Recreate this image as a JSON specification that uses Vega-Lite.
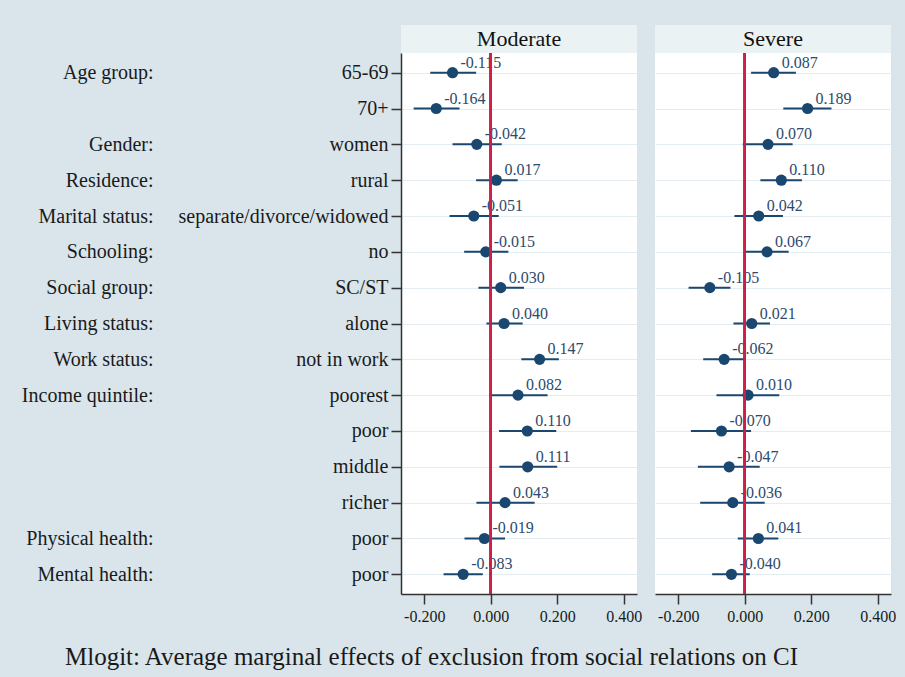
{
  "$schema": "https://vega.github.io/schema/vega-lite/v6.json",
  "background": "#D9E5EB",
  "padding": {"left": 21, "top": 25, "right": 12, "bottom": 8},
  "autosize": {"type": "pad"},
  "config": {
    "locale": {"number": {"decimal": ".", "thousands": ",", "grouping": [3], "currency": ["$", ""], "minus": "-"}},
    "font": "Liberation Serif",
    "view": {"stroke": null, "fill": "white"},
    "axis": {"labelFont": "Liberation Serif", "titleFont": "Liberation Serif"}
  },
  "datasets": {
    "me": [
      {"panel": "Moderate", "group": "Age group:", "label": "65-69", "key": "Age group:|65-69|1", "est": -0.115, "lo": -0.182, "hi": -0.044},
      {"panel": "Moderate", "group": "", "label": "70+", "key": "|70+|2", "est": -0.164, "lo": -0.232, "hi": -0.094},
      {"panel": "Moderate", "group": "Gender:", "label": "women", "key": "Gender:|women|3", "est": -0.042, "lo": -0.115, "hi": 0.033},
      {"panel": "Moderate", "group": "Residence:", "label": "rural", "key": "Residence:|rural|4", "est": 0.017, "lo": -0.044, "hi": 0.081},
      {"panel": "Moderate", "group": "Marital status:", "label": "separate/divorce/widowed", "key": "Marital status:|separate/divorce/widowed|5", "est": -0.051, "lo": -0.124, "hi": 0.024},
      {"panel": "Moderate", "group": "Schooling:", "label": "no", "key": "Schooling:|no|6", "est": -0.015, "lo": -0.080, "hi": 0.053},
      {"panel": "Moderate", "group": "Social group:", "label": "SC/ST", "key": "Social group:|SC/ST|7", "est": 0.030, "lo": -0.037, "hi": 0.100},
      {"panel": "Moderate", "group": "Living status:", "label": "alone", "key": "Living status:|alone|8", "est": 0.040, "lo": -0.013, "hi": 0.096},
      {"panel": "Moderate", "group": "Work status:", "label": "not in work", "key": "Work status:|not in work|9", "est": 0.147, "lo": 0.092, "hi": 0.205},
      {"panel": "Moderate", "group": "Income quintile:", "label": "poorest", "key": "Income quintile:|poorest|10", "est": 0.082, "lo": -0.005, "hi": 0.171},
      {"panel": "Moderate", "group": "", "label": "poor", "key": "|poor|11", "est": 0.110, "lo": 0.025, "hi": 0.197},
      {"panel": "Moderate", "group": "", "label": "middle", "key": "|middle|12", "est": 0.111, "lo": 0.026, "hi": 0.200},
      {"panel": "Moderate", "group": "", "label": "richer", "key": "|richer|13", "est": 0.043, "lo": -0.043, "hi": 0.132},
      {"panel": "Moderate", "group": "Physical health:", "label": "poor", "key": "Physical health:|poor|14", "est": -0.019, "lo": -0.079, "hi": 0.043},
      {"panel": "Moderate", "group": "Mental health:", "label": "poor", "key": "Mental health:|poor|15", "est": -0.083, "lo": -0.142, "hi": -0.024},
      {"panel": "Severe", "group": "Age group:", "label": "65-69", "key": "Age group:|65-69|1", "est": 0.087, "lo": 0.019, "hi": 0.154},
      {"panel": "Severe", "group": "", "label": "70+", "key": "|70+|2", "est": 0.189, "lo": 0.116, "hi": 0.261},
      {"panel": "Severe", "group": "Gender:", "label": "women", "key": "Gender:|women|3", "est": 0.070, "lo": -0.006, "hi": 0.144},
      {"panel": "Severe", "group": "Residence:", "label": "rural", "key": "Residence:|rural|4", "est": 0.110, "lo": 0.047, "hi": 0.172},
      {"panel": "Severe", "group": "Marital status:", "label": "separate/divorce/widowed", "key": "Marital status:|separate/divorce/widowed|5", "est": 0.042, "lo": -0.031, "hi": 0.115},
      {"panel": "Severe", "group": "Schooling:", "label": "no", "key": "Schooling:|no|6", "est": 0.067, "lo": 0.002, "hi": 0.132},
      {"panel": "Severe", "group": "Social group:", "label": "SC/ST", "key": "Social group:|SC/ST|7", "est": -0.105, "lo": -0.169, "hi": -0.043},
      {"panel": "Severe", "group": "Living status:", "label": "alone", "key": "Living status:|alone|8", "est": 0.021, "lo": -0.034, "hi": 0.076},
      {"panel": "Severe", "group": "Work status:", "label": "not in work", "key": "Work status:|not in work|9", "est": -0.062, "lo": -0.125, "hi": 0.000},
      {"panel": "Severe", "group": "Income quintile:", "label": "poorest", "key": "Income quintile:|poorest|10", "est": 0.010, "lo": -0.085, "hi": 0.104},
      {"panel": "Severe", "group": "", "label": "poor", "key": "|poor|11", "est": -0.070, "lo": -0.162, "hi": 0.019},
      {"panel": "Severe", "group": "", "label": "middle", "key": "|middle|12", "est": -0.047, "lo": -0.141, "hi": 0.045},
      {"panel": "Severe", "group": "", "label": "richer", "key": "|richer|13", "est": -0.036, "lo": -0.134, "hi": 0.060},
      {"panel": "Severe", "group": "Physical health:", "label": "poor", "key": "Physical health:|poor|14", "est": 0.041, "lo": -0.021, "hi": 0.101},
      {"panel": "Severe", "group": "Mental health:", "label": "poor", "key": "Mental health:|poor|15", "est": -0.040, "lo": -0.098, "hi": 0.015}
    ]
  },
  "title": {
    "text": "Mlogit: Average marginal effects of exclusion from social relations on CI",
    "orient": "bottom",
    "anchor": "middle",
    "frame": "bounds",
    "dx": -27,
    "offset": 21,
    "font": "Liberation Serif",
    "fontSize": 25,
    "fontWeight": "normal",
    "color": "#1a1a1a"
  },
  "bounds": "flush",
  "columns": 2,
  "spacing": {"row": 0, "column": 18},
  "concat": [
    {
      "data": {"values": [{"panel": "Moderate"}]},
      "width": 236,
      "height": 28,
      "view": {"fill": "#EAF2F3", "stroke": null},
      "mark": {"type": "text", "font": "Liberation Serif", "fontSize": 22, "color": "#111111"},
      "encoding": {"text": {"field": "panel"}}
    },
    {
      "data": {"values": [{"panel": "Severe"}]},
      "width": 236,
      "height": 28,
      "view": {"fill": "#EAF2F3", "stroke": null},
      "mark": {"type": "text", "font": "Liberation Serif", "fontSize": 22, "color": "#111111"},
      "encoding": {"text": {"field": "panel"}}
    },
    {
      "width": 236,
      "height": 541,
      "data": {"name": "me"},
      "transform": [{"filter": "datum.panel === 'Moderate'"}],
      "resolve": {"axis": {"y": "independent"}},
      "layer": [
        {
          "mark": {"type": "rule", "color": "#1A476F", "strokeWidth": 2},
          "encoding": {
            "x": {"field": "lo", "type": "quantitative", "scale": {"domain": [-0.27, 0.44], "nice": false, "zero": false},
                  "axis": {"values": [-0.2, 0, 0.2, 0.4], "format": ".3f", "title": null, "grid": false, "labelFontSize": 16, "labelColor": "#1a1a1a", "tickSize": 10, "tickWidth": 1.5, "tickColor": "#333333", "domainColor": "#333333", "domainWidth": 1.5, "labelPadding": 4}},
            "x2": {"field": "hi"},
            "y": {"field": "key", "type": "nominal", "sort": null, "scale": {"type": "point", "padding": 0.55},
                  "axis": {"title": null, "labelExpr": "split(datum.value, '|')[1]", "labelFontSize": 20, "labelColor": "#1a1a1a", "tickSize": 10, "tickWidth": 1.5, "tickColor": "#333333", "domainColor": "#333333", "domainWidth": 1.5, "labelPadding": 3, "grid": true, "gridColor": "#E4EDF1", "gridWidth": 1.2, "labelLimit": 400}}
          }
        },
        {
          "mark": {"type": "point", "filled": true, "shape": "circle", "size": 125, "color": "#1A476F", "opacity": 1},
          "encoding": {
            "x": {"field": "est", "type": "quantitative"},
            "y": {"field": "key", "type": "nominal", "sort": null,
                  "axis": {"orient": "left", "offset": 248, "title": null, "labelExpr": "split(datum.value, '|')[0]", "labelFontSize": 20, "labelColor": "#1a1a1a", "ticks": false, "tickSize": 0, "domain": false, "grid": false, "labelPadding": 0, "labelLimit": 400}}
          }
        },
        {
          "mark": {"type": "text", "align": "left", "baseline": "alphabetic", "dx": 8, "dy": -5, "font": "Liberation Serif", "fontSize": 16, "color": "#2E4A6B"},
          "encoding": {
            "x": {"field": "est", "type": "quantitative"},
            "y": {"field": "key", "type": "nominal", "sort": null, "axis": null},
            "text": {"field": "est", "type": "quantitative", "format": ".3f"}
          }
        },
        {
          "mark": {"type": "rule", "color": "#CF1F48", "strokeWidth": 1.8},
          "encoding": {"x": {"datum": 0, "type": "quantitative"}}
        }
      ]
    },
    {
      "width": 236,
      "height": 541,
      "data": {"name": "me"},
      "transform": [{"filter": "datum.panel === 'Severe'"}],
      "layer": [
        {
          "mark": {"type": "rule", "color": "#1A476F", "strokeWidth": 2},
          "encoding": {
            "x": {"field": "lo", "type": "quantitative", "scale": {"domain": [-0.27, 0.44], "nice": false, "zero": false},
                  "axis": {"values": [-0.2, 0, 0.2, 0.4], "format": ".3f", "title": null, "grid": false, "labelFontSize": 16, "labelColor": "#1a1a1a", "tickSize": 10, "tickWidth": 1.5, "tickColor": "#333333", "domainColor": "#333333", "domainWidth": 1.5, "labelPadding": 4}},
            "x2": {"field": "hi"},
            "y": {"field": "key", "type": "nominal", "sort": null, "scale": {"type": "point", "padding": 0.55},
                  "axis": {"title": null, "labels": false, "ticks": false, "domain": false, "grid": true, "gridColor": "#E4EDF1", "gridWidth": 1.2}}
          }
        },
        {
          "mark": {"type": "point", "filled": true, "shape": "circle", "size": 125, "color": "#1A476F", "opacity": 1},
          "encoding": {
            "x": {"field": "est", "type": "quantitative"},
            "y": {"field": "key", "type": "nominal", "sort": null}
          }
        },
        {
          "mark": {"type": "text", "align": "left", "baseline": "alphabetic", "dx": 8, "dy": -5, "font": "Liberation Serif", "fontSize": 16, "color": "#2E4A6B"},
          "encoding": {
            "x": {"field": "est", "type": "quantitative"},
            "y": {"field": "key", "type": "nominal", "sort": null},
            "text": {"field": "est", "type": "quantitative", "format": ".3f"}
          }
        },
        {
          "mark": {"type": "rule", "color": "#CF1F48", "strokeWidth": 1.8},
          "encoding": {"x": {"datum": 0, "type": "quantitative"}}
        }
      ]
    }
  ]
}
